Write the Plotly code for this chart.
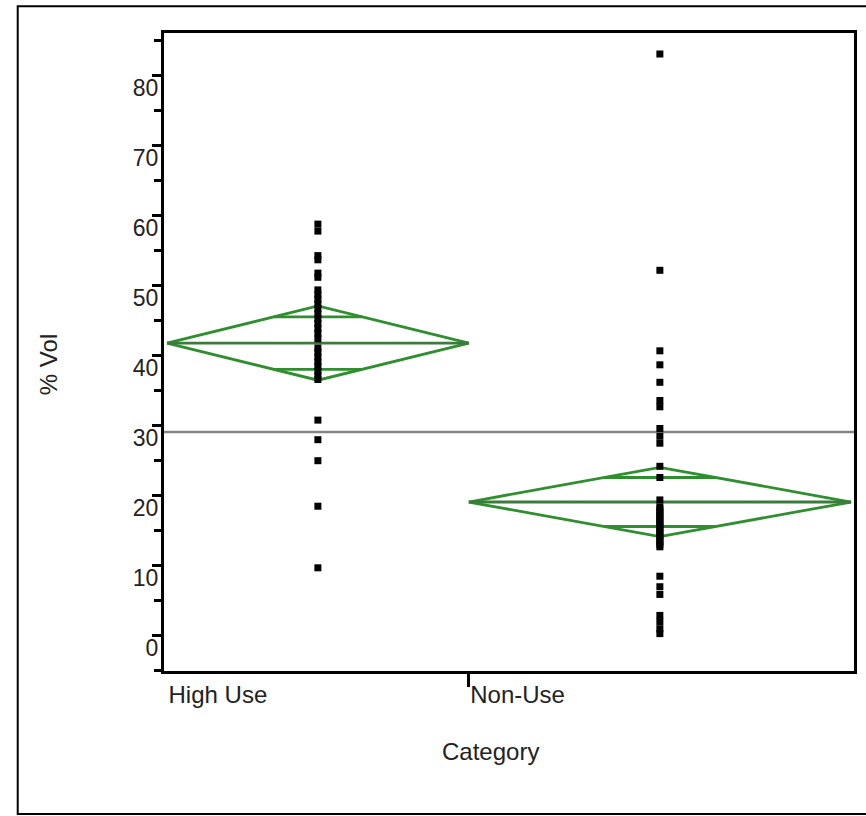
import numpy as np
import plotly.graph_objects as go

# ---- data ----
categories = ["High Use", "Non-Use"]
high_use = [58.7, 57.7, 54.2, 53.6, 51.7, 51.1,
            49.3, 48.6, 48.0, 47.3, 46.6, 45.9, 45.2, 44.5, 43.8, 43.1, 42.3,
            41.0, 40.4, 39.7, 39.0, 38.4, 37.7, 37.1, 36.5,
            30.7, 27.9, 24.9, 18.4, 9.6]
non_use = [83.0, 52.1, 40.6, 38.6, 36.1, 33.5, 32.6, 29.5, 28.4, 27.4, 24.1, 22.5, 19.3,
           18.3, 18.0, 17.6, 17.3, 17.0, 16.6, 16.3, 16.0, 15.6, 15.3, 15.0, 14.6,
           14.3, 14.0, 13.6, 13.3, 12.9, 12.6,
           8.4, 6.9, 5.8, 2.8, 1.9, 0.9, 0.2]
group_means = [41.7, 19.0]
ci_half = [5.3, 4.95]
grand_mean = 29.0
y_ticks = list(range(0, 90, 10))

groups = [high_use, non_use]
sizes = [len(g) for g in groups]
starts = list(np.cumsum([0] + sizes[:-1]))
total = sum(sizes)

GREEN = "#2f8f2f"
MEANG = "#3d7a3d"
FONT = "Liberation Sans, Arial, sans-serif"

fig = go.Figure()

for i, vals in enumerate(groups):
    s = starts[i]
    n = sizes[i]
    c = s + n / 2.0
    e = s + n
    m = group_means[i]
    h = ci_half[i]
    # means diamond
    fig.add_trace(go.Scatter(
        x=[s, c, e, c, s], y=[m, m + h, m, m - h, m],
        mode="lines", line=dict(color=GREEN, width=2.8),
        hoverinfo="skip", showlegend=False))
    # mean line
    fig.add_trace(go.Scatter(
        x=[s, e], y=[m, m], mode="lines",
        line=dict(color=MEANG, width=2.8), hoverinfo="skip", showlegend=False))
    # overlap marks
    k = 1 - 1 / np.sqrt(2)
    hw = (n / 2.0) * k
    ov = h / np.sqrt(2)
    fig.add_trace(go.Scatter(
        x=[c - hw, c + hw, None, c - hw, c + hw],
        y=[m + ov, m + ov, None, m - ov, m - ov],
        mode="lines", line=dict(color=GREEN, width=2.8),
        hoverinfo="skip", showlegend=False))

for i, vals in enumerate(groups):
    c = starts[i] + sizes[i] / 2.0
    fig.add_trace(go.Scatter(
        x=[c] * len(vals), y=vals, mode="markers",
        marker=dict(symbol="square", size=7, color="black", line=dict(width=0)),
        name=categories[i], showlegend=False))

fig.add_shape(type="line", xref="paper", yref="y", x0=0, x1=1,
              y0=grand_mean, y1=grand_mean,
              line=dict(color="#858585", width=2.5), layer="below")

# outer frame
fig.add_shape(type="rect", xref="paper", yref="paper",
              x0=-0.212, x1=1.1, y0=-0.224, y1=1.042,
              line=dict(color="black", width=2))

fig.update_xaxes(
    range=[-0.3, total + 0.3],
    tickmode="array", tickvals=starts, ticktext=categories,
    ticks="", ticklabelposition="outside right",
    ticklabelstandoff=0,
    minor=dict(tickmode="array", tickvals=starts[1:], ticks="outside",
               ticklen=13, tickwidth=2.5, tickcolor="black"),
    showgrid=False, zeroline=False,
    showline=True, linecolor="black", linewidth=3, mirror=True,
    tickfont=dict(family=FONT, size=24, color="#222"))

fig.update_yaxes(
    range=[-5.14, 86.0],
    tickmode="array", tickvals=y_ticks,
    ticks="outside", ticklen=9, tickwidth=2.5, tickcolor="black",
    minor=dict(tickmode="linear", tick0=5, dtick=10, ticks="outside",
               ticklen=7, tickwidth=2.5, tickcolor="black"),
    ticklabelshift=13, ticklabelstandoff=-11,
    showgrid=False, zeroline=False,
    showline=True, linecolor="black", linewidth=3, mirror=True,
    tickfont=dict(family=FONT, size=23, color="#222"))

fig.add_annotation(text="% Vol", xref="paper", yref="paper",
                   x=-0.19, y=0.48, textangle=-90, showarrow=False,
                   font=dict(family=FONT, size=24, color="#222"))
fig.add_annotation(text="Category", xref="paper", yref="paper",
                   x=0.473, y=-0.150, showarrow=False,
                   font=dict(family=FONT, size=24, color="#222"))

fig.update_layout(
    width=866, height=816,
    margin=dict(l=164, r=9, t=33, b=145),
    paper_bgcolor="white", plot_bgcolor="white",
    showlegend=False)

fig.write_html("out.html")
